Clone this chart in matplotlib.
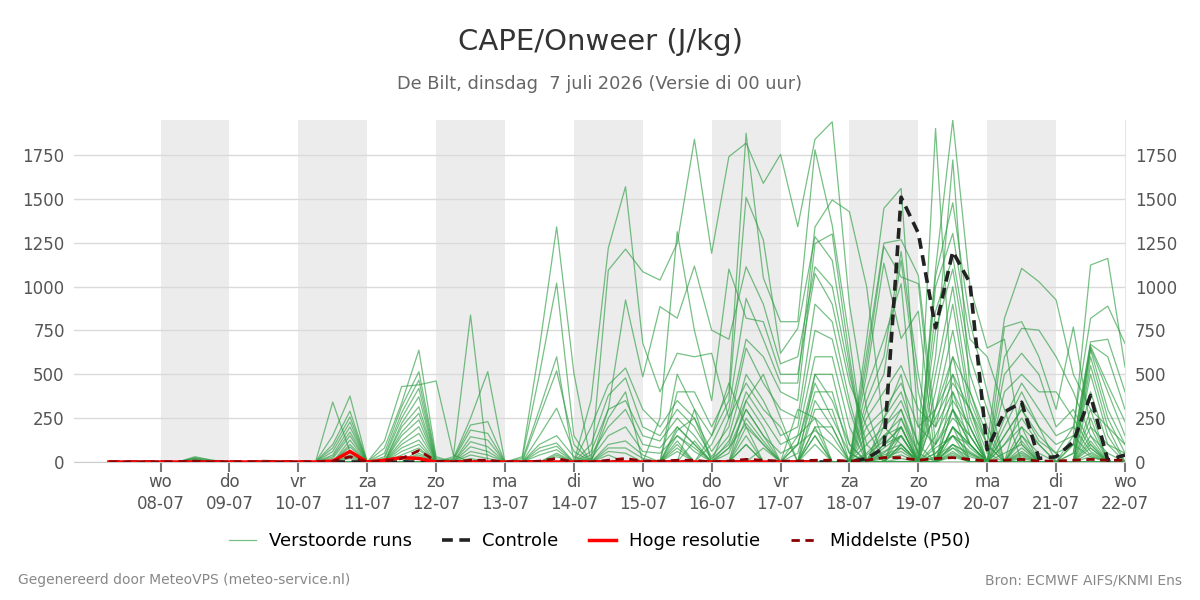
import numpy as np
import pandas as pd
import matplotlib
matplotlib.use('Agg')
import matplotlib.pyplot as plt
from matplotlib.lines import Line2D

# forecast steps, every 6 hours from di 07-07 06 uur
first_step = '2026-07-07 06:00'
n_steps = 60

tick_dates = ['2026-07-08', '2026-07-09', '2026-07-10', '2026-07-11', '2026-07-12',
              '2026-07-13', '2026-07-14', '2026-07-15', '2026-07-16', '2026-07-17',
              '2026-07-18', '2026-07-19', '2026-07-20', '2026-07-21', '2026-07-22']
tick_days = ['wo', 'do', 'vr', 'za', 'zo', 'ma', 'di', 'wo', 'do', 'vr', 'za', 'zo', 'ma', 'di', 'wo']
shaded_days = ['2026-07-08', '2026-07-10', '2026-07-12', '2026-07-14',
               '2026-07-16', '2026-07-18', '2026-07-20']

# Controle run (J/kg)
control = [0,0,0,0,0,0,0,0,0,0,0,0,0, 0,0,0,0,0,0,0,0,0,0, 0,0,0,0,0,0,0,0,
           0,0,0,0,0,0,0,0,0,0,0,0,
           0,20,80,1510,1305,765,1200,1020,70,285,340,20,30,115,380,10,40]
# Hoge resolutie (stops after 10 days)
hres = [0,0,0,0,0,0,0,0,0,0,0,0,0, 5,60,0,10,25,20,0,0,0,0, 0,0,0,0,0,0,0,0,
        0,0,0,0,0,0,0,0,0,0,0]
# Middelste (P50)
p50 = [0,0,0,0,0,5,0,0,0,0,0,0,0, 5,30,0,5,20,65,5,0,10,10, 0,0,5,20,0,0,10,20,
       5,5,10,10,0,5,15,10,5,5,10,10,
       5,10,25,25,10,20,25,15,5,10,15,5,5,10,15,10,10]

# Verstoorde runs (ensemble members)
runs = [
    [0,0,0,0,0,0,0,0,0,0,0,0,0, 0,0,0,0,0,68,0,0,0,0, 0,30,650,1341,507,0,0,0,
     0,0,150,80,0,0,250,120,0,0,350,200, 0,40,120,300,0,150,350,200,0,100,200,100,0,150,1123,1161,542],
    [0,0,0,0,0,0,0,0,0,0,0,0,0, 0,0,0,0,0,50,0,0,0,0, 0,20,500,1020,150,0,0,0,
     0,0,200,100,0,80,300,150,0,100,450,250, 50,0,200,350,100,250,450,300,0,150,300,120,50,200,819,889,676],
    [0,0,0,0,0,0,0,0,0,0,0,0,0, 0,0,0,0,0,40,0,0,0,0, 0,10,300,600,0,353,1220,1570,
     678,400,620,600,620,250,450,300,200,0,500,350, 100,0,250,500,0,300,600,400,100,0,350,200,0,100,685,700,400],
    [0,0,0,0,0,25,10,0,0,0,0,0,0, 0,0,0,0,0,30,0,0,0,0, 0,0,260,520,100,0,1094,1214,
     1085,1037,1248,1840,1190,1741,1818,1589,1754,1342,1840,1940, 900,300,0,200,0,100,250,150,0,0,150,50,0,100,670,600,300],
    [0,0,0,0,0,0,0,0,0,0,0,0,0, 0,0,0,0,0,0,0,0,0,0, 0,0,150,307,60,0,300,924,
     486,886,820,1117,752,700,1113,900,560,600,1113,1000, 500,100,0,250,50,0,200,100,0,50,100,0,0,50,660,440,230],
    [0,0,0,0,0,0,0,0,0,10,5,0,0, 0,0,0,0,0,0,0,0,0,0, 0,0,100,150,30,0,0,0,
     0,250,1313,750,350,1100,820,800,500,500,1075,900, 450,200,0,150,0,50,150,100,0,0,50,0,0,0,650,400,150],
    [0,0,0,0,0,0,0,0,0,0,0,0,0, 0,0,0,0,0,0,0,0,0,0, 0,0,80,108,0,0,0,0,
     0,0,400,400,200,400,1874,1050,800,800,1780,1350, 700,0,100,200,0,0,100,50,0,0,0,0,0,50,640,300,100],
    [0,0,0,0,0,20,0,0,0,0,0,0,0, 0,0,0,0,0,0,0,0,0,0, 0,0,60,90,0,0,0,0,
     0,0,0,300,150,350,1509,1267,620,762,1285,1150, 550,0,50,150,0,0,80,0,0,0,0,0,0,0,600,250,50],
    [0,0,0,0,0,0,0,0,0,0,0,0,0, 0,0,0,0,0,0,0,0,0,0, 0,0,40,70,0,0,0,0,
     0,0,0,0,100,300,933,700,450,450,1340,1494, 1427,1000,200,100,0,0,50,0,0,0,0,0,0,0,550,200,0],
    [0,0,0,0,0,0,0,0,0,0,0,0,0, 0,0,0,0,0,0,0,0,0,0, 0,0,0,50,0,0,0,0,
     0,0,0,0,0,250,700,600,400,350,1246,1300, 600,0,0,100,0,0,0,0,0,0,0,0,0,0,500,150,0],
    [0,0,0,0,0,0,0,0,0,0,0,0,0, 342,60,0,0,0,0,0,30,838,0, 0,0,0,0,0,200,440,536,
     300,200,350,250,60,200,650,450,300,250,900,800, 350,0,150,250,0,0,300,100,0,0,120,0,0,0,400,100,0],
    [0,0,0,0,0,0,0,0,0,0,0,0,0, 150,376,0,0,0,0,0,20,250,515, 0,0,0,0,0,100,380,480,
     200,150,300,200,30,150,500,350,150,200,750,700, 300,0,100,200,0,0,200,80,0,0,80,0,0,0,300,0,0],
    [0,0,0,0,0,30,10,0,0,0,0,0,0, 100,290,0,0,0,0,0,15,211,230, 0,0,0,0,0,60,300,350,
     150,120,250,150,20,100,400,250,100,150,600,600, 200,0,80,150,0,50,150,60,0,0,60,0,0,0,250,0,0],
    [0,0,0,0,0,0,0,0,0,0,0,0,0, 80,257,0,0,0,0,0,10,182,163, 0,0,0,0,0,40,200,300,
     100,80,200,100,0,50,300,150,50,100,500,500, 100,0,60,100,0,30,100,40,0,0,40,0,0,0,200,0,0],
    [0,0,0,0,0,0,0,0,0,0,0,0,0, 60,228,0,0,0,0,0,0,144,125, 0,0,0,0,0,20,150,200,
     60,50,150,60,0,0,200,100,0,50,400,400, 50,0,40,80,0,20,80,30,0,0,30,0,0,0,150,0,0],
    [0,0,0,0,0,0,0,0,0,0,0,0,0, 40,200,0,0,0,0,0,0,116,87, 0,0,0,0,0,0,100,120,
     40,0,100,0,0,0,100,0,0,0,300,300, 0,0,30,60,0,0,60,0,0,0,20,0,0,0,100,0,0],
    [0,0,0,0,0,0,0,0,0,0,0,0,0, 30,171,0,0,0,0,0,0,87,60, 0,0,0,0,0,0,80,80,
     20,0,60,0,0,0,0,0,0,0,200,200, 0,0,20,40,0,0,40,0,0,0,0,0,0,0,50,0,0],
    [0,0,0,0,0,0,0,0,0,0,0,0,0, 20,150,0,0,0,0,0,0,60,40, 0,0,0,0,0,0,60,50,
     0,0,0,0,0,0,0,0,0,0,100,0, 0,0,0,20,0,0,30,0,0,0,0,0,0,0,30,0,0],
    [0,0,0,0,0,0,0,0,0,8,0,0,0, 0,125,0,0,0,0,0,0,40,20, 0,0,0,0,0,0,40,0,
     0,0,180,250,0,120,350,200,0,150,250,150, 0,0,0,0,0,80,150,0,0,0,0,0,0,0,120,0,0],
    [0,0,0,0,0,0,0,0,0,0,0,0,0, 0,100,0,0,0,0,0,0,20,0, 0,0,0,0,0,0,0,0,
     0,0,120,0,0,80,220,100,0,100,180,100, 0,0,0,80,0,0,100,0,0,0,0,0,0,0,80,0,0],
    [0,0,0,0,0,15,0,0,0,0,0,0,0, 0,86,0,0,0,0,0,0,0,0, 0,0,0,40,0,0,0,0,
     0,0,0,0,0,0,150,0,0,0,200,0, 0,700,1446,1560,200,300,500,300,100,819,1104,1028,924,500,300,200,100],
    [0,0,0,0,0,0,0,0,0,0,0,0,0, 0,57,0,0,0,0,0,0,0,0, 0,0,0,30,0,0,0,0,
     0,0,0,0,0,0,0,0,0,0,150,0, 0,620,1248,1267,1064,200,400,200,0,770,800,600,300,770,200,100,50],
    [0,0,0,0,0,0,0,0,0,0,0,0,0, 0,40,0,0,0,0,0,0,0,0, 0,0,0,0,0,0,0,0,
     0,0,80,0,0,0,100,0,0,0,0,0, 0,560,1229,1055,1017,100,300,150,0,600,762,752,600,400,150,50,0],
    [0,0,0,0,0,0,0,0,0,0,0,0,0, 0,30,0,0,0,0,0,0,0,0, 0,0,0,0,0,0,0,0,
     0,0,0,0,0,0,0,0,0,0,0,0, 0,500,1134,704,860,0,200,100,0,500,620,500,200,300,100,0,0],
    [0,0,0,0,0,0,0,0,0,0,0,0,0, 0,20,0,0,0,0,0,0,0,0, 0,0,0,0,0,0,0,0,
     0,0,0,120,0,0,0,80,0,0,150,0, 0,420,700,1017,0,0,150,50,0,400,500,400,400,250,80,0,0],
    [0,0,0,0,0,0,0,0,0,0,0,0,0, 0,0,0,120,430,440,462,40,0,0, 0,0,0,0,0,0,0,0,
     0,0,0,0,0,0,0,0,0,0,0,0, 0,350,600,1200,500,0,200,0,0,250,450,300,150,200,60,0,0],
    [0,0,0,0,0,0,0,0,0,0,0,0,0, 0,0,0,80,336,638,30,0,0,0, 0,0,0,0,0,0,0,0,
     0,0,500,300,0,0,0,0,0,0,0,0, 0,300,500,1150,400,0,300,0,0,200,400,200,100,150,40,0,0],
    [0,0,0,0,0,0,0,0,0,0,0,0,0, 0,0,0,50,315,515,20,0,0,0, 0,0,0,0,0,0,0,0,
     0,0,0,0,0,0,0,0,0,0,0,0, 0,250,400,550,300,200,600,200,0,150,300,150,50,100,30,0,0],
    [0,0,0,0,0,10,0,0,0,0,0,0,0, 0,0,0,30,280,467,10,0,0,0, 0,0,0,0,0,0,0,0,
     0,0,0,0,0,0,350,500,250,0,0,0, 0,200,300,450,200,100,500,150,0,100,250,100,0,0,0,0,0],
    [0,0,0,0,0,0,0,0,0,0,0,0,0, 0,0,0,20,250,420,0,0,0,0, 0,0,0,0,0,0,0,0,
     0,0,0,0,0,0,0,0,0,0,0,0, 0,150,250,400,100,0,400,100,0,0,200,0,0,0,0,0,0],
    [0,0,0,0,0,0,0,0,0,0,0,0,0, 0,0,0,0,220,372,0,0,0,0, 0,0,0,0,0,0,0,0,
     0,0,0,0,0,0,0,0,0,300,250,0, 0,100,200,300,50,1902,300,100,0,0,150,0,0,0,0,0,0],
    [0,0,0,0,0,0,0,0,0,0,0,0,0, 0,0,0,0,200,315,0,0,0,0, 0,0,0,0,0,0,0,0,
     0,0,0,0,0,0,0,0,0,0,0,0, 0,50,150,200,0,1100,1950,1000,650,700,100,0,0,0,0,0,0],
    [0,0,0,0,0,0,0,0,0,0,0,0,0, 0,0,0,0,170,278,0,0,0,0, 0,0,0,0,0,0,0,0,
     0,0,0,0,150,450,200,0,0,0,0,0, 0,0,100,150,0,1060,1478,800,400,0,0,0,0,0,0,0,0],
    [0,0,0,0,0,20,5,0,0,0,0,0,0, 0,0,0,0,150,240,0,0,0,0, 0,0,0,0,0,0,0,0,
     0,0,0,0,0,0,0,0,0,0,0,0, 0,0,0,100,0,1000,1303,700,600,300,0,0,0,0,0,0,0],
    [0,0,0,0,0,0,0,0,0,0,0,0,0, 0,0,0,0,120,201,0,0,0,0, 0,0,0,0,0,0,250,400,
     0,0,0,0,0,0,0,0,0,0,0,0, 0,0,0,0,0,860,1170,600,300,0,0,0,0,0,0,0,0],
    [0,0,0,0,0,0,0,0,0,0,0,0,0, 0,0,0,0,100,163,0,0,0,0, 0,0,0,0,0,0,0,0,
     0,0,0,0,0,0,0,0,0,0,0,0, 0,0,0,0,0,750,1100,500,200,0,0,0,0,0,0,0,0],
    [0,0,0,0,0,0,0,0,0,0,0,0,0, 0,0,0,0,80,125,0,0,0,0, 0,0,0,0,0,0,0,0,
     0,0,0,0,0,0,0,0,0,0,0,0, 0,0,0,0,0,600,1722,400,150,0,0,0,0,0,0,0,0],
    [0,0,0,0,0,0,0,0,0,0,0,0,0, 0,0,0,0,60,100,0,0,0,0, 0,0,0,0,0,0,0,0,
     0,0,0,0,0,0,0,0,0,0,0,0, 0,0,0,0,0,500,1000,350,100,0,0,0,0,0,0,0,0],
    [0,0,0,0,0,0,0,0,0,0,0,0,0, 0,0,0,0,40,80,0,0,0,0, 0,0,0,0,0,0,0,0,
     0,0,0,0,0,0,0,0,0,0,0,0, 0,0,0,0,0,400,900,300,50,0,0,0,0,0,0,0,0],
    [0,0,0,0,0,0,0,0,0,0,0,0,0, 0,0,0,0,0,0,0,0,0,0, 0,0,0,0,0,0,0,0,
     0,0,0,0,0,0,0,0,0,0,0,0, 0,0,0,0,0,300,750,250,0,0,0,0,0,0,0,0,0],
]

runs = np.array(runs)
times = pd.date_range(first_step, periods=n_steps, freq='6h')

fig = plt.figure(figsize=(12, 6), dpi=100)
ax = fig.add_axes([0.062, 0.23, 0.8755, 0.57])

for d in shaded_days:
    d0 = pd.Timestamp(d)
    ax.axvspan(d0, d0 + pd.Timedelta(days=1), color='#ececec', lw=0, zorder=0)

for r in runs:
    ax.plot(times, r, color='#2f9e44', lw=0.9, alpha=0.65, zorder=2)
ax.plot(times, control, color='#222222', lw=2.6, ls=(0, (3, 1.8)), zorder=3)
ax.plot(times[:len(hres)], hres, color='#ff0000', lw=2.5, zorder=4)
ax.plot(times, p50, color='#8b0000', lw=2, ls=(0, (3, 2)), zorder=5)

ax.set_xlim(pd.Timestamp('2026-07-06 18:00'), pd.Timestamp('2026-07-22 00:00'))
ax.set_ylim(0, 1950)
ax.set_yticks(range(0, 1751, 250))
ax.yaxis.grid(True, color='#dadada', lw=1)
ax.set_axisbelow(True)

ticks = pd.to_datetime(tick_dates)
ax.set_xticks(ticks)
ax.set_xticklabels([f'{d}\n{t:%d-%m}' for d, t in zip(tick_days, ticks)], linespacing=1.3)
ax.tick_params(axis='x', length=7, width=1.5, color='#777777', labelsize=12,
               labelcolor='#555555', pad=1)
ax.tick_params(axis='y', length=0, labelsize=12, labelcolor='#555555',
               labelright=True, pad=7)

for s in ['top', 'left']:
    ax.spines[s].set_visible(False)
ax.spines['bottom'].set_color('#cccccc')
ax.spines['right'].set_color('#e6e6e6')

fig.text(0.5, 0.93, 'CAPE/Onweer (J/kg)', ha='center', va='center', fontsize=21, color='#333333')
fig.text(0.5, 0.86, 'De Bilt, dinsdag  7 juli 2026 (Versie di 00 uur)', ha='center', va='center',
         fontsize=12.8, color='#666666')

handles = [Line2D([], [], color='#2f9e44', lw=0.9, alpha=0.65),
           Line2D([], [], color='#222222', lw=2.6, ls=(0, (3, 1.8))),
           Line2D([], [], color='#ff0000', lw=2.5),
           Line2D([], [], color='#8b0000', lw=2, ls=(0, (3, 2)))]
labels = ['Verstoorde runs', 'Controle', 'Hoge resolutie', 'Middelste (P50)']
fig.legend(handles, labels, loc='center', bbox_to_anchor=(0.5, 0.098), ncol=4, frameon=False,
           fontsize=13, handlelength=1.5, handletextpad=0.7, columnspacing=1.7)

fig.text(0.015, 0.033, 'Gegenereerd door MeteoVPS (meteo-service.nl)', fontsize=10,
         color='#888888', va='center')
fig.text(0.985, 0.033, 'Bron: ECMWF AIFS/KNMI Ens', fontsize=10, color='#888888',
         va='center', ha='right')

fig.savefig('out.png', dpi=100)
